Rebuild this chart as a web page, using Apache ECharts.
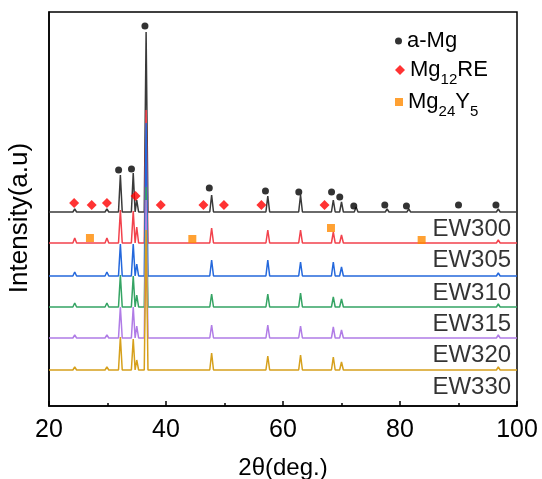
<!DOCTYPE html>
<html>
<head>
<meta charset="utf-8">
<script src="https://cdn.jsdelivr.net/npm/echarts@6/dist/echarts.min.js"></script>
<style>
  html, body { margin: 0; padding: 0; background: #fff; }
  #chart { width: 542px; height: 479px; }
</style>
</head>
<body>
<div id="chart"></div>
<script>
// Reflection positions (2θ, degrees) shared by all patterns
const twoTheta = [24.4, 27.3, 29.9, 32.2, 34.4, 35.0, 36.6, 39.3, 46.3, 47.8, 50.0, 56.2, 57.4,
                  63.0, 67.2, 68.6, 70.0, 72.5, 73.6, 77.8, 81.5, 90.4, 94.2, 96.8, 99.2];

// Peak intensities (a.u.) for each sample, one value per reflection above
const sampleNames = ['EW300', 'EW305', 'EW310', 'EW315', 'EW320', 'EW330'];
const intEW300 = [3, 1, 3, 37, 39, 12, 180, 1, 1, 17, 1, 1, 16, 17, 1, 12, 10, 5, 1, 3, 3, 2, 1, 3, 2];
const intEW305 = [5, 1, 5, 33, 32, 16, 133, 1, 2, 15, 2, 2, 13, 13, 2, 11, 8, 2, 2, 2, 2, 2, 1, 3, 2];
const intEW310 = [4, 1, 4, 32, 32, 12, 153, 1, 2, 16, 2, 2, 16, 14, 2, 14, 9, 2, 1, 2, 2, 2, 1, 3, 2];
const intEW315 = [4, 1, 4, 32, 31, 12, 120, 1, 2, 13, 2, 2, 13, 14, 2, 10, 8, 2, 1, 2, 2, 2, 1, 3, 2];
const intEW320 = [3, 1, 3, 31, 31, 12, 138, 1, 2, 13, 2, 2, 13, 12, 2, 11, 8, 2, 1, 2, 2, 2, 1, 3, 2];
const intEW330 = [3, 1, 3, 33, 31, 10, 140, 1, 2, 17, 2, 2, 14, 15, 2, 13, 8, 2, 1, 2, 2, 2, 1, 3, 2];
const intensities = [intEW300, intEW305, intEW310, intEW315, intEW320, intEW330];

// Vertical stacking offset of each pattern (a.u.)
const offsets = [194, 163, 130, 99, 68, 36];

// Phase markers: [2θ, height a.u.]
const aMgMarks = [[36.4, 380], [31.9, 236], [34.1, 237], [47.4, 218], [57.0, 215], [62.7, 214],
                  [68.3, 214], [69.7, 209], [72.1, 200], [77.4, 201], [81.1, 200], [90.0, 201], [96.4, 201]];
const mg12REMarks = [[24.3, 203], [27.3, 201], [29.9, 203], [34.8, 210], [39.1, 201], [46.4, 201],
                     [49.9, 201], [56.3, 201], [67.1, 201]];
const mg24Y5Marks = [[27.0, 168], [44.5, 167], [68.2, 178], [83.7, 166]];

const xTicks = [20, 40, 60, 80, 100];

const lineColors = ['#3a3a3a', '#f2424c', '#2468dc', '#35a464', '#b07ce6', '#d6a01c'];
const FONT = 'Liberation Sans, Arial, sans-serif';
const HALF_WIDTH = 0.32; // drawn peak half-width at base, degrees

function pattern(idx) {
  const base = offsets[idx];
  const pts = [[20, base]];
  twoTheta.forEach((t, i) => {
    pts.push([t - HALF_WIDTH, base]);
    pts.push([t, base + intensities[idx][i]]);
    pts.push([t + HALF_WIDTH, base]);
  });
  pts.push([100, base]);
  return pts;
}

const lineSeries = sampleNames.map((name, i) => ({
  name: name,
  type: 'line',
  data: pattern(i),
  showSymbol: false,
  symbol: 'none',
  lineStyle: { color: lineColors[i], width: 1.5 },
  silent: true,
  animation: false
}));

// Sample name labels placed just under each pattern at the right edge
const nameSeries = {
  name: 'names',
  type: 'scatter',
  symbolSize: 0,
  silent: true,
  animation: false,
  data: sampleNames.map((n, i) => ({ value: [99.0, offsets[i] - 17], name: n })),
  label: {
    show: true,
    position: 'left',
    distance: 0,
    formatter: p => p.name,
    color: '#000',
    fontFamily: FONT,
    fontSize: 24
  }
};

const markerSeries = [
  { name: 'a-Mg', type: 'scatter', symbol: 'circle', symbolSize: 7, data: aMgMarks,
    itemStyle: { color: '#000' } },
  { name: 'Mg12RE', type: 'scatter', symbol: 'diamond', symbolSize: 10, data: mg12REMarks,
    itemStyle: { color: '#ff0000' } },
  { name: 'Mg24Y5', type: 'scatter', symbol: 'rect', symbolSize: 8, data: mg24Y5Marks,
    itemStyle: { color: '#ff8a00' } }
].map(s => Object.assign(s, { animation: false, silent: true, z: 5 }));

const legendRich = {
  n: { fontFamily: FONT, fontSize: 22, color: '#000' },
  s: { fontFamily: FONT, fontSize: 15, color: '#000', padding: [19, 0, 0, 0] }
};
function legendBox(name, top, icon, size, fmt) {
  return {
    data: [{ name: name, icon: icon }],
    left: 390, top: top, orient: 'vertical',
    itemWidth: size, itemHeight: size,
    selectedMode: false,
    formatter: fmt,
    textStyle: { rich: legendRich }
  };
}

const chart = echarts.init(document.getElementById('chart'), null, { renderer: 'canvas', width: 542, height: 479 });
chart.setOption({
  animation: false,
  backgroundColor: '#fff',
  grid: { left: 49, right: 25, top: 12, bottom: 73, show: true, borderColor: '#000', borderWidth: 1.5,
          outerBoundsMode: 'none', containLabel: false },
  legend: [
    legendBox('a-Mg', 25, 'circle', 7, () => '{n|a-Mg}'),
    legendBox('Mg12RE', 54, 'diamond', 10, () => '{n|Mg}{s|12}{n|RE}'),
    legendBox('Mg24Y5', 86, 'rect', 8, () => '{n|Mg}{s|24}{n|Y}{s|5}')
  ],
  xAxis: {
    type: 'value', min: 20, max: 100, interval: 20,
    name: '2θ(deg.)', nameLocation: 'middle', nameGap: 50,
    nameTextStyle: { fontFamily: FONT, fontSize: 24, color: '#000' },
    axisLine: { show: true, lineStyle: { color: '#000', width: 1.5 } },
    axisTick: { show: true, inside: true, length: 5, lineStyle: { color: '#000', width: 1.5 } },
    minorTick: { show: true, splitNumber: 2, length: 3, lineStyle: { color: '#000', width: 1.5 } },
    axisLabel: { margin: 12, fontFamily: FONT, fontSize: 25, color: '#000',
                 formatter: v => xTicks.includes(v) ? String(v) : '' },
    splitLine: { show: false }
  },
  yAxis: {
    type: 'value', min: 0, max: 394,
    name: 'Intensity(a.u)', nameLocation: 'middle', nameGap: 16,
    nameTextStyle: { fontFamily: FONT, fontSize: 26, color: '#000', padding: [0, 18, 0, 0] },
    axisLine: { show: true, lineStyle: { color: '#000', width: 1.5 } },
    axisTick: { show: false },
    axisLabel: { show: false },
    splitLine: { show: false }
  },
  series: [...lineSeries, ...markerSeries, nameSeries]
});
</script>
</body>
</html>
